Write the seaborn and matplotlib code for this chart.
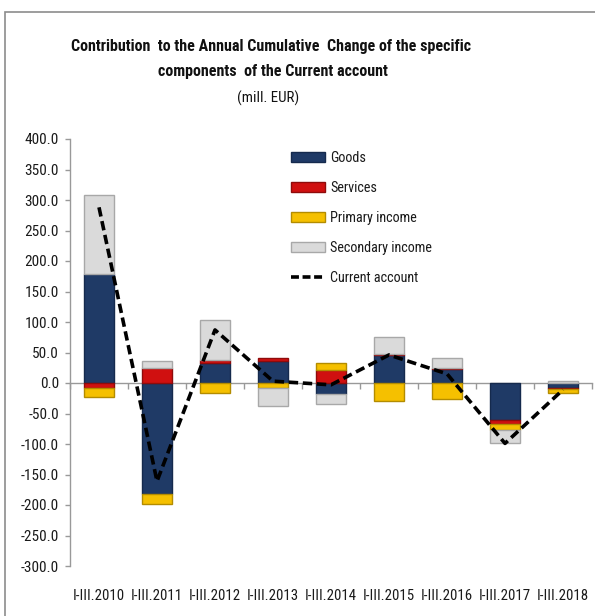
import numpy as np
import matplotlib
matplotlib.use("Agg")
import matplotlib.pyplot as plt
import seaborn as sns
from matplotlib import font_manager
from matplotlib.patches import Patch, Rectangle
from matplotlib.lines import Line2D

# ---------------- data ----------------
categories = ["I-III.2010", "I-III.2011", "I-III.2012", "I-III.2013", "I-III.2014",
              "I-III.2015", "I-III.2016", "I-III.2017", "I-III.2018"]
goods = [178, -182, 33, 36, -18, 46, 23, -61, -8]
services = [-9, 25, 4, 5, 21, 1, 2, -7, -2]
primary_income = [-14, -17, -16, -8, 11, -30, -26, -9, -6]
secondary_income = [130, 11, 67, -29, -16, 29, 16, -21, 4]
current_account = [288, -161, 87, 3, -3, 46, 15, -99, -11]

series_names = ["Goods", "Services", "Primary income", "Secondary income"]
line_name = "Current account"
yticks = [400, 350, 300, 250, 200, 150, 100, 50, 0, -50, -100, -150, -200, -250, -300]

title_lines = ["Contribution  to the Annual Cumulative  Change of the specific",
               "components  of the Current account"]
subtitle = "(mill. EUR)"

# ---------------- style ----------------
sns.set_style("white")


def pick_font(cands):
    for c in cands:
        try:
            font_manager.findfont(font_manager.FontProperties(family=c),
                                  fallback_to_default=False)
            return c
        except Exception:
            continue
    return "DejaVu Sans"


FONT_NAME = pick_font(["Roboto Condensed", "Liberation Sans Narrow",
                       "Open Sans Condensed", "Roboto", "Lato"])
plt.rcParams["font.family"] = [FONT_NAME, "DejaVu Sans"]

face_colors = ["#1f3a66", "#d01010", "#f5c000", "#dadada"]
edge_colors = ["#152a4d", "#8f0b0b", "#b38c00", "#a8a8a8"]

fig = plt.figure(figsize=(5.95, 6.16), dpi=100)
renderer = fig.canvas.get_renderer()


def fit_size(text, target_px, weight="normal", base=10.0):
    t = fig.text(0, 0, text, fontsize=base, fontweight=weight)
    w = t.get_window_extent(renderer).width
    t.remove()
    return base * target_px / w


boost = 1.06
fs_title = fit_size(title_lines[0], 376, "bold") * boost
fs_sub = fit_size(subtitle, 58) * boost
fs_ytick = fit_size("400.0", 32) * boost
fs_xtick = fit_size("I-III.2010", 48) * boost
fs_leg = fit_size("Secondary income", 96) * boost

ax = fig.add_axes([70 / 595, 1 - 566 / 616, (592 - 70) / 595, (566 - 139) / 616])

all_series = [goods, services, primary_income, secondary_income]
pos_bottom = np.zeros(len(categories))
neg_bottom = np.zeros(len(categories))
for vals, fc, ec in zip(all_series, face_colors, edge_colors):
    v = np.asarray(vals, dtype=float)
    bottom = np.where(v >= 0, pos_bottom, neg_bottom)
    sns.barplot(x=categories, y=v, order=categories, bottom=bottom, color=fc,
                saturation=1, width=0.52, edgecolor=ec, linewidth=1.0,
                errorbar=None, ax=ax, zorder=2)
    pos_bottom = pos_bottom + np.where(v >= 0, v, 0)
    neg_bottom = neg_bottom + np.where(v < 0, v, 0)

sns.lineplot(x=categories, y=current_account, sort=False, color="black",
             linewidth=2.6, linestyle=(0, (2.6, 1.3)), ax=ax, zorder=4)

# axes formatting
ax.set_ylim(-300, 400)
ax.set_xlim(-0.5, len(categories) - 0.5)
ax.set_yticks(yticks)
ax.set_yticklabels([f"{t:.1f}" for t in yticks])
ax.set_xlabel("")
ax.set_ylabel("")
for s in ["top", "right", "bottom"]:
    ax.spines[s].set_visible(False)
ax.spines["left"].set_color("#999999")
ax.spines["left"].set_linewidth(1.0)
ax.tick_params(axis="y", direction="out", length=3.5, width=1, color="#999999",
               labelsize=fs_ytick, labelcolor="#1a1a1a", pad=4.5, left=True)
ax.tick_params(axis="x", length=0, labelsize=fs_xtick, labelcolor="#1a1a1a", pad=16.5)

# zero line with category-boundary ticks
sec = ax.secondary_xaxis(300 / 700)
sec.set_xticks(np.arange(-0.5, len(categories), 1.0))
sec.set_xticklabels([])
sec.tick_params(axis="x", direction="out", length=4, width=1, color="#999999")
sec.spines["bottom"].set_color("#999999")
sec.spines["bottom"].set_linewidth(1.0)
for s in ["top", "left", "right"]:
    if s in sec.spines:
        sec.spines[s].set_visible(False)

# legend
handles = [Patch(facecolor=fc, edgecolor=ec, linewidth=1.0)
           for fc, ec in zip(face_colors, edge_colors)]
handles.append(Line2D([0], [0], color="black", linewidth=2.6, linestyle=(0, (2.2, 1.0))))
lh_px = fs_leg * 100 / 72
ax.legend(handles, series_names + [line_name], loc="upper left",
          bbox_to_anchor=((291 - 70) / 522, (566 - 151) / 427), frameon=False,
          fontsize=fs_leg, handlelength=34 / lh_px, handleheight=0.65,
          labelspacing=(28 - 0.85 * lh_px) / lh_px,
          handletextpad=5 / lh_px, borderaxespad=0, borderpad=0, labelcolor="#1a1a1a")

# titles
fig.text(271 / 595, 1 - 46 / 616, title_lines[0], ha="center", va="center",
         fontsize=fs_title, fontweight="bold", color="#111111")
fig.text(273 / 595, 1 - 71.5 / 616, title_lines[1], ha="center", va="center",
         fontsize=fs_title, fontweight="bold", color="#111111")
fig.text(268 / 595, 1 - 98 / 616, subtitle, ha="center", va="center",
         fontsize=fs_sub, color="#111111")

# outer frame (left and top visible)
fig.add_artist(Rectangle((5 / 595, -0.05), 1.2, (616 - 12) / 616 + 0.05,
                         transform=fig.transFigure, fill=False,
                         edgecolor="#8c8c8c", linewidth=1.2))

fig.savefig("out.png", dpi=100)
